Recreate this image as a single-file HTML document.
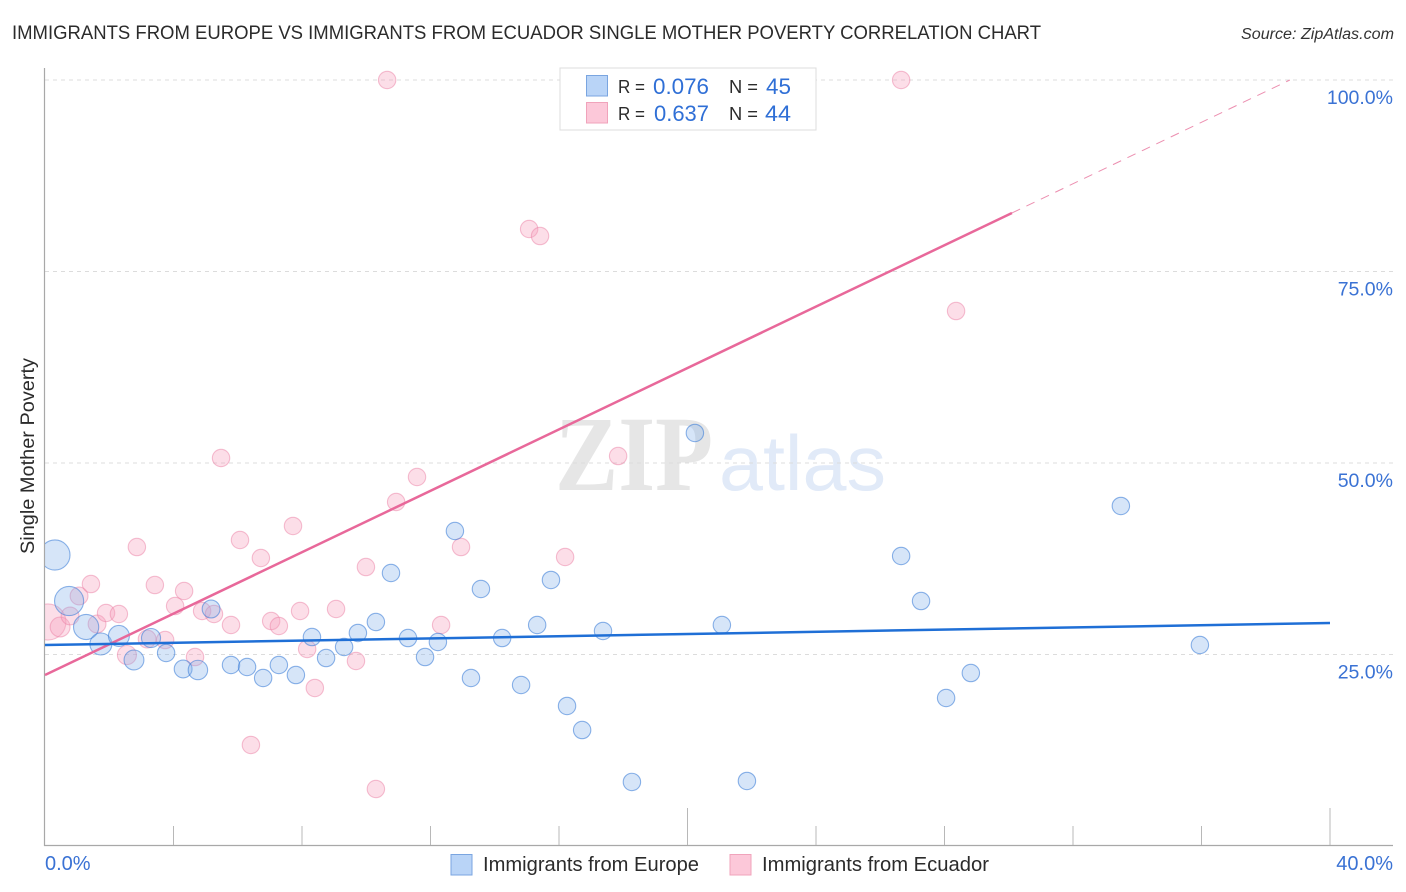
<!DOCTYPE html>
<html lang="en">
<head>
<meta charset="utf-8">
<title>Immigrants from Europe vs Immigrants from Ecuador Single Mother Poverty Correlation Chart</title>
<style>
html,body{margin:0;padding:0;background:#fff;}
svg{display:block;font-family:"Liberation Sans",sans-serif;}
</style>
</head>
<body>
<svg id="chart" width="1406" height="892" viewBox="0 0 1406 892" xmlns="http://www.w3.org/2000/svg">
  <defs>
    <clipPath id="plot-clip"><rect x="45" y="60" width="1361" height="786"/></clipPath>
  </defs>
  <rect width="1406" height="892" fill="#ffffff"/>
  <text x="12" y="39" font-size="19" fill="#2b2b2b" textLength="1029" lengthAdjust="spacingAndGlyphs">IMMIGRANTS FROM EUROPE VS IMMIGRANTS FROM ECUADOR SINGLE MOTHER POVERTY CORRELATION CHART</text>
  <text x="1241" y="39" font-size="15.5" font-style="italic" fill="#333333" textLength="153" lengthAdjust="spacingAndGlyphs">Source: ZipAtlas.com</text>
  <g>
    <text x="555" y="490" font-family="'Liberation Serif',serif" font-weight="bold" font-size="107" fill="#e6e6e6" textLength="158" lengthAdjust="spacingAndGlyphs">ZIP</text>
    <text x="719" y="490" font-size="78" fill="#e1eaf8" textLength="167" lengthAdjust="spacingAndGlyphs">atlas</text>
  </g>
  <g id="grid"></g>
  <g id="axes"></g>
  <g id="points" clip-path="url(#plot-clip)"></g>
  <g id="trends"></g>
  <text transform="translate(34,554) rotate(-90)" font-size="19" fill="#2b2b2b" textLength="196" lengthAdjust="spacingAndGlyphs">Single Mother Poverty</text>
  <g>
    <rect x="560" y="68" width="256" height="62" fill="#ffffff" stroke="#dddddd" stroke-width="1"/>
    <rect x="586.5" y="75.5" width="21" height="20.5" fill="#b9d4f7" stroke="#7aa5e0"/>
    <rect x="586.5" y="102.5" width="21" height="20.5" fill="#fcc8d9" stroke="#f0a3bb"/>
    <text x="618" y="93" font-size="18" fill="#2b2b2b" textLength="27" lengthAdjust="spacingAndGlyphs">R =</text>
    <text x="653" y="94" font-size="22" fill="#2f6fd6" textLength="56" lengthAdjust="spacingAndGlyphs">0.076</text>
    <text x="729" y="93" font-size="18" fill="#2b2b2b" textLength="29" lengthAdjust="spacingAndGlyphs">N =</text>
    <text x="766" y="94" font-size="22" fill="#2f6fd6" textLength="25" lengthAdjust="spacingAndGlyphs">45</text>
    <text x="618" y="120" font-size="18" fill="#2b2b2b" textLength="27" lengthAdjust="spacingAndGlyphs">R =</text>
    <text x="654" y="121" font-size="22" fill="#2f6fd6" textLength="55" lengthAdjust="spacingAndGlyphs">0.637</text>
    <text x="729" y="120" font-size="18" fill="#2b2b2b" textLength="29" lengthAdjust="spacingAndGlyphs">N =</text>
    <text x="765" y="121" font-size="22" fill="#2f6fd6" textLength="26" lengthAdjust="spacingAndGlyphs">44</text>
  </g>
  <g>
    <rect x="451" y="854.5" width="21" height="20.5" fill="#b9d4f7" stroke="#7aa5e0"/>
    <text x="483" y="871" font-size="20" fill="#2b2b2b" textLength="216" lengthAdjust="spacingAndGlyphs">Immigrants from Europe</text>
    <rect x="730" y="854.5" width="21" height="20.5" fill="#fcc8d9" stroke="#f0a3bb"/>
    <text x="762" y="871" font-size="20" fill="#2b2b2b" textLength="227" lengthAdjust="spacingAndGlyphs">Immigrants from Ecuador</text>
  </g>
</svg>
<script>
const europeX = [0.31,0.75,1.28,1.74,2.30,2.77,3.30,3.77,4.30,4.76,5.17,5.79,6.29,6.79,7.28,7.81,8.31,8.75,9.31,9.74,10.30,10.77,11.30,11.83,12.23,12.76,13.26,13.57,14.23,14.82,15.32,15.75,16.25,16.72,17.37,18.27,20.23,21.07,21.85,26.65,27.27,28.05,28.82,33.49,35.95];
const europeY = [37.99,31.98,28.59,26.37,27.42,24.28,27.15,25.20,23.11,22.98,30.94,23.63,23.37,21.93,23.63,22.32,27.28,24.54,25.98,27.81,29.24,35.64,27.15,24.67,26.63,41.12,21.93,33.55,27.15,21.02,28.85,34.73,18.28,15.14,28.07,8.36,53.92,28.85,8.49,37.86,31.98,19.32,22.58,44.39,26.24];
const europeWeight = [3.0,2.8,2.1,1.6,1.45,1.3,1.2,1,1.05,1.25,1.05,1,1,1,1,1,1,1,1,1,1,1,1,1,1,1,1,1,1,1,1,1,1,1,1,1,1,1,1,1,1,1,1,1,1];
const ecuadorX = [0.09,0.47,0.78,1.06,1.43,1.62,1.90,2.30,2.55,2.86,3.18,3.42,3.74,4.05,4.33,4.67,4.89,5.26,5.48,5.79,6.07,6.41,6.72,7.04,7.28,7.72,7.94,8.16,8.40,9.06,9.68,9.99,10.30,10.65,10.93,11.58,12.33,12.95,15.07,15.41,16.19,17.84,26.65,28.36];
const ecuadorY = [29.24,28.59,30.03,32.64,34.20,28.98,30.42,30.29,24.93,39.03,27.02,34.07,26.89,31.33,33.29,24.67,30.68,30.29,50.65,28.85,39.95,13.19,37.60,29.37,28.72,41.78,30.68,25.72,20.63,30.94,24.15,36.42,7.44,100,44.91,48.17,28.85,39.03,80.55,79.63,37.73,50.91,100,69.84];
const ecuadorWeight = [4.3,1.3,1.05,1.05,1,1.05,1,1,1.2,1,1.05,1,1,1,1,1,1,1,1,1,1,1,1,1,1,1,1,1,1,1,1,1,1,1,1,1,1,1,1,1,1,1,1,1];
const europeTrendX = [0,40];
const europeTrendY = [26.24,29.11];
const ecuadorTrendX = [0,30.1];
const ecuadorTrendY = [22.32,82.64];
const ecuadorExtensionX = [30.1,38.75];
const ecuadorExtensionY = [82.64,100];
const yTickValues = [100,75,50,25];
const yTickLabels = ['100.0%','75.0%','50.0%','25.0%'];
const xTickValues = [4,8,12,16,20,24,28,32,36,40];
const xMajorTicks = [20,40];
const xEdgeValues = [0,40];
const xEdgeLabels = ['0.0%','40.0%'];

const NS = 'http://www.w3.org/2000/svg';
const xScale = v => 45 + v * 32.125;
const yScale = v => 846 - v * 7.66;
const radius = w => 8.7 * Math.sqrt(w);

function make(tag, parent, attrs) {
  const el = document.createElementNS(NS, tag);
  Object.keys(attrs).forEach(k => el.setAttribute(k, attrs[k]));
  parent.appendChild(el);
  return el;
}

const grid = document.getElementById('grid');
const axes = document.getElementById('axes');
const points = document.getElementById('points');
const trends = document.getElementById('trends');

yTickValues.forEach((v, i) => {
  const line = make('line', grid, {x1: 45, x2: 1393, y1: yScale(v), y2: yScale(v), stroke: '#dcdcdc', 'stroke-width': 1, 'stroke-dasharray': '4 4'});
  
  
  const label = make('text', axes, {x: 1393, y: yScale(v) + 24, 'text-anchor': 'end', 'font-size': 19.5, fill: '#3a72d4'});
  label.textContent = yTickLabels[i];
  
  
});

const yAxis = make('line', axes, {x1: 44.5, x2: 44.5, y1: 68, y2: 846, stroke: '#a8a8a8', 'stroke-width': 1.2});


const xAxis = make('line', axes, {x1: 44, x2: 1393, y1: 845.5, y2: 845.5, stroke: '#a8a8a8', 'stroke-width': 1.2});



xTickValues.forEach(v => {
  const top = xMajorTicks.includes(v) ? 808 : 826;
  const tick = make('line', axes, {x1: xScale(v), x2: xScale(v), y1: top, y2: 845, stroke: '#b8b8b8', 'stroke-width': 1});
  
  
});

xEdgeValues.forEach((v, i) => {
  const label = make('text', axes, {x: i === 0 ? xScale(v) : 1393, y: 870, 'text-anchor': i === 0 ? 'start' : 'end', 'font-size': 20, fill: '#3a72d4'});
  label.textContent = xEdgeLabels[i];
  
  
});

ecuadorX.forEach((v, i) => {
  const c = make('circle', points, {cx: xScale(v), cy: yScale(ecuadorY[i]), r: radius(ecuadorWeight[i]), fill: 'rgba(247,160,188,0.35)', stroke: 'rgba(236,130,165,0.5)', 'stroke-width': 1.1});
  
  
});
europeX.forEach((v, i) => {
  const c = make('circle', points, {cx: xScale(v), cy: yScale(europeY[i]), r: radius(europeWeight[i]), fill: 'rgba(130,175,235,0.33)', stroke: 'rgba(60,125,215,0.58)', 'stroke-width': 1.1});
  
  
});

const ext = make('line', trends, {x1: xScale(ecuadorExtensionX[0]), y1: yScale(ecuadorExtensionY[0]), x2: xScale(ecuadorExtensionX[1]), y2: yScale(ecuadorExtensionY[1]), stroke: '#ec8fb0', 'stroke-width': 1, 'stroke-dasharray': '9 7'});


const pinkLine = make('line', trends, {x1: xScale(ecuadorTrendX[0]), y1: yScale(ecuadorTrendY[0]), x2: xScale(ecuadorTrendX[1]), y2: yScale(ecuadorTrendY[1]), stroke: '#e8689a', 'stroke-width': 2.5});


const blueLine = make('line', trends, {x1: xScale(europeTrendX[0]), y1: yScale(europeTrendY[0]), x2: xScale(europeTrendX[1]), y2: yScale(europeTrendY[1]), stroke: '#1f6fd6', 'stroke-width': 2.5});


</script>
</body>
</html>
